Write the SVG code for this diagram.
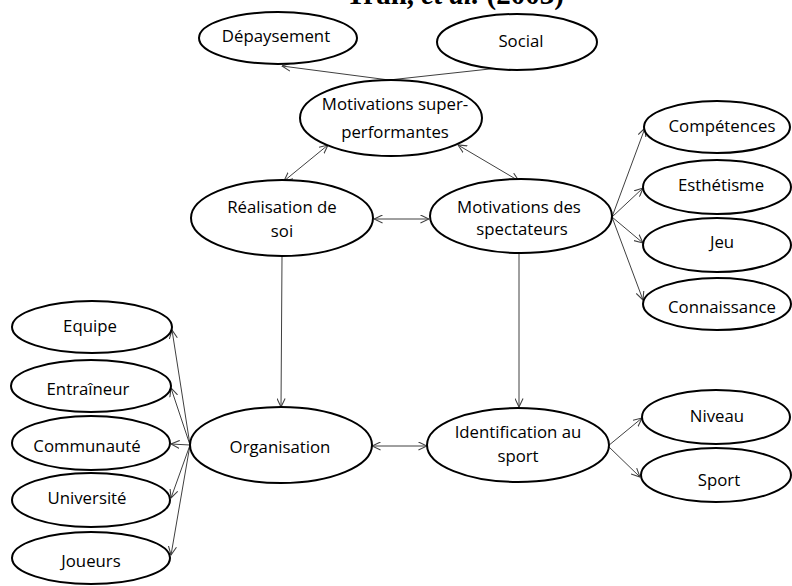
<svg xmlns="http://www.w3.org/2000/svg" width="792" height="586" viewBox="0 0 792 586">
<defs>
<marker id="ah" viewBox="0 0 10 10" refX="9.5" refY="5" markerWidth="9" markerHeight="9" markerUnits="userSpaceOnUse" orient="auto-start-reverse">
<path d="M0,0.5 L9.5,5 L0,9.5" fill="none" stroke="#404040" stroke-width="1.2"/>
</marker>
<style>
.n ellipse{fill:#fff;stroke:#000;stroke-width:2}
.n text,.t{font-family:"Open Sans","Liberation Sans",sans-serif;font-size:16.8px;fill:#000;text-anchor:middle}
.c line{stroke:#404040;stroke-width:1;fill:none}
.s{marker-end:url(#ah)}
.d{marker-start:url(#ah);marker-end:url(#ah)}
</style>
</defs>
<rect width="792" height="586" fill="#fff"/>
<text x="455" y="4" font-family="'Liberation Serif',serif" font-size="29" font-weight="bold" text-anchor="middle">Tran, <tspan font-style="italic">et al.</tspan> (2003)</text>
<g class="c">
<line class="s" x1="389" y1="80" x2="282" y2="66"/>
<line class="s" x1="389" y1="80" x2="517" y2="66"/>
<line class="d" x1="284" y1="181" x2="328" y2="145"/>
<line class="d" x1="519" y1="181" x2="458" y2="145"/>
<line class="d" x1="374" y1="219" x2="429" y2="219"/>
<line class="s" x1="282" y1="257" x2="281" y2="407"/>
<line class="s" x1="519" y1="254" x2="519" y2="407"/>
<line class="d" x1="372" y1="446" x2="427" y2="446"/>
<line class="s" x1="612" y1="217" x2="645" y2="128"/>
<line class="s" x1="612" y1="217" x2="643" y2="188"/>
<line class="s" x1="612" y1="217" x2="643" y2="243"/>
<line class="s" x1="612" y1="217" x2="643" y2="300"/>
<line class="s" x1="608" y1="446" x2="642" y2="418"/>
<line class="s" x1="608" y1="446" x2="640" y2="477"/>
<line class="s" x1="190" y1="445" x2="172" y2="330"/>
<line class="s" x1="190" y1="445" x2="171" y2="388"/>
<line class="s" x1="190" y1="445" x2="171" y2="444"/>
<line class="s" x1="190" y1="445" x2="171" y2="498"/>
<line class="s" x1="190" y1="445" x2="171" y2="555"/>
</g>
<g id="depaysement" class="n"><ellipse cx="278" cy="38" rx="79" ry="26"/><text x="276" y="42">Dépaysement</text></g>
<g id="social" class="n"><ellipse cx="517" cy="42" rx="80" ry="28"/><text x="521" y="47">Social</text></g>
<g id="superperf" class="n"><ellipse cx="391" cy="118" rx="91" ry="38"/><text x="395" y="110">Motivations super-</text><text x="395" y="138">performantes</text></g>
<g id="realisation" class="n"><ellipse cx="282" cy="218" rx="91" ry="38"/><text x="282" y="213">Réalisation de</text><text x="282" y="237">soi</text></g>
<g id="spectateurs" class="n"><ellipse cx="521" cy="216" rx="91" ry="37"/><text x="519" y="213">Motivations des</text><text x="522" y="235">spectateurs</text></g>
<g id="competences" class="n"><ellipse cx="717" cy="127" rx="73" ry="26"/><text x="722" y="132">Compétences</text></g>
<g id="esthetisme" class="n"><ellipse cx="717" cy="187" rx="74" ry="27"/><text x="721" y="191">Esthétisme</text></g>
<g id="jeu" class="n"><ellipse cx="717" cy="245" rx="74" ry="27"/><text x="722" y="248">Jeu</text></g>
<g id="connaissance" class="n"><ellipse cx="717" cy="304" rx="74" ry="26"/><text x="722" y="313">Connaissance</text></g>
<g id="equipe" class="n"><ellipse cx="92" cy="327" rx="80" ry="26"/><text x="90" y="332">Equipe</text></g>
<g id="entraineur" class="n"><ellipse cx="91" cy="386" rx="80" ry="26"/><text x="88" y="395">Entraîneur</text></g>
<g id="communaute" class="n"><ellipse cx="91" cy="443" rx="79" ry="27"/><text x="87" y="452">Communauté</text></g>
<g id="universite" class="n"><ellipse cx="91" cy="500" rx="79" ry="27"/><text x="87" y="504">Université</text></g>
<g id="joueurs" class="n"><ellipse cx="91" cy="558" rx="79" ry="26"/><text x="91" y="567">Joueurs</text></g>
<g id="organisation" class="n"><ellipse cx="281" cy="445" rx="91" ry="38"/><text x="280" y="453">Organisation</text></g>
<g id="identification" class="n"><ellipse cx="518" cy="445" rx="91" ry="37"/><text x="518" y="438">Identification au</text><text x="518" y="462">sport</text></g>
<g id="niveau" class="n"><ellipse cx="716" cy="417" rx="74" ry="27"/><text x="717" y="422">Niveau</text></g>
<g id="sport" class="n"><ellipse cx="716" cy="475" rx="75" ry="27"/><text x="719" y="486">Sport</text></g>
</svg>
